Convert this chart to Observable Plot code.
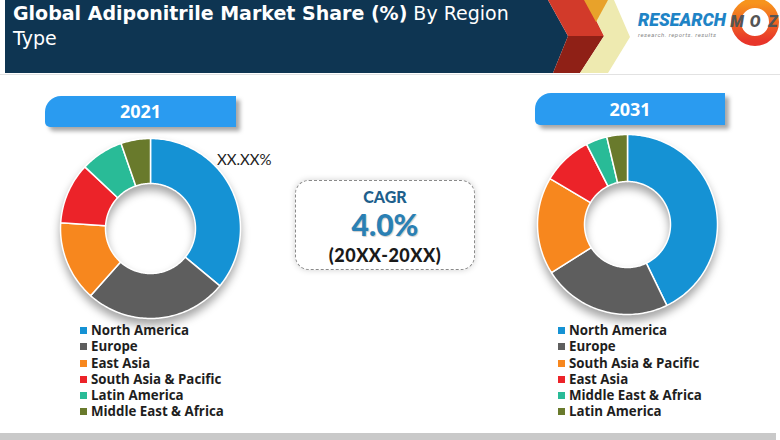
<!DOCTYPE html>
<html><head><meta charset="utf-8">
<script src="https://cdn.jsdelivr.net/npm/d3@7"></script>
<script src="https://cdn.jsdelivr.net/npm/@observablehq/plot@0.6"></script>
<style>
body{margin:0;background:#fff;}
#root{position:relative;width:780px;height:440px;overflow:hidden;background:#fff;font-family:"Open Sans",sans-serif;}
.abs{position:absolute;}
#title{left:13px;top:1px;color:#fff;font-family:"DejaVu Sans",sans-serif;font-size:19px;line-height:25px;white-space:nowrap;}
#title b{font-weight:700;}
.tab{position:absolute;background:#2a9bf0;color:#fff;font-weight:700;font-size:18px;text-align:center;border-radius:16px 0 0 5px;box-shadow:4px 4px 4px rgba(0,0,0,0.35);}
.pct{font-size:15px;color:#222;font-family:Lato,sans-serif;}
#cagr{left:295px;top:180px;width:178px;height:88px;border:1.5px dashed #8a8a8a;border-radius:14px;box-shadow:0 0 6px rgba(0,0,0,0.18);text-align:center;font-family:Lato,sans-serif;font-weight:900;}
.legend{position:absolute;font-weight:700;font-size:13.3px;color:#1e1e1e;line-height:16.3px;}
.legend .sw{display:inline-block;width:7px;height:7px;margin-right:4px;vertical-align:1px;}
.donut svg{filter:drop-shadow(0px 6px 4px rgba(0,0,0,0.35));overflow:visible;}
</style></head><body><div id="root">
<svg class="abs" style="left:0;top:0" width="780" height="80">
  <polygon points="5,0 548,0 568,36 553,73 5,73" fill="#0e3552"/>
  <polygon points="548,0 586,0 604,36 568,36" fill="#d23a2a"/>
  <polygon points="568,36 604,36 580,73 553,73" fill="#8f2016"/>
  <polygon points="586,0 614,0 630,37 608,73 580,73 604,36" fill="#eeeab0"/>
  <polygon points="584,0 608,0 596,22" fill="#e8a22a"/>
  <line x1="0" y1="74.5" x2="780" y2="74.5" stroke="#e2e2e2" stroke-width="1"/>
  <defs><linearGradient id="rg" x1="0" y1="0" x2="0" y2="1"><stop offset="0" stop-color="#f7941d"/><stop offset="1" stop-color="#e8352a"/></linearGradient></defs>
  <circle cx="755" cy="22" r="19" fill="#fff" stroke="url(#rg)" stroke-width="10"/>
  <text x="638" y="26" font-family="Roboto" font-style="italic" font-weight="900" font-size="18" fill="#1f84c6" textLength="88" lengthAdjust="spacingAndGlyphs">RESEARCH</text>
  <text x="638" y="37" font-family="Roboto" font-style="italic" font-size="6" fill="#888" textLength="78">research. reports. results</text>
  <g font-family="Roboto" font-style="italic" font-weight="900" font-size="16" fill="#555" text-anchor="middle">
    <text x="737" y="27">M</text><text x="755" y="27">O</text><text x="773" y="27">Z</text>
  </g>
</svg>
<div id="title" class="abs"><b>Global Adiponitrile Market Share (%)</b> By Region<br>Type</div>
<div id="tab1" class="tab" style="left:45px;top:96px;width:191px;height:31px;line-height:31px;"></div>
<div id="tab2" class="tab" style="left:535px;top:93px;width:190px;height:32px;line-height:32px;"></div>
<div id="pctlabel" class="abs pct" style="left:217px;top:150px;"></div>
<div id="cagr" class="abs">
  <div id="cagrLabel" style="color:#1e5f8c;font-size:16px;margin-top:6px;line-height:20px;"></div>
  <div id="cagrValue" style="color:#2a80b4;font-size:30px;line-height:34px;text-shadow:1px 1px 1px rgba(0,0,0,0.2);"></div>
  <div id="cagrPeriod" style="color:#1a1a1a;font-size:18px;line-height:28px;letter-spacing:0.5px;"></div>
</div>
<div id="d1" class="abs donut"></div>
<div id="d2" class="abs donut"></div>
<div id="leg1" class="legend" style="left:80px;top:322px;"></div>
<div id="leg2" class="legend" style="left:558px;top:322px;"></div>
<div class="abs" style="left:0;top:433px;width:776px;height:7px;background:#c9c9c9;"></div>
</div>
<script>
// ---- data ----
const years = ["2021", "2031"];
const regions2021 = ["North America", "Europe", "East Asia", "South Asia & Pacific", "Latin America", "Middle East & Africa"];
const shares2021 = [36.0, 25.6, 14.4, 11.0, 7.7, 5.3];
const regions2031 = ["North America", "Europe", "South Asia & Pacific", "East Asia", "Middle East & Africa", "Latin America"];
const shares2031 = [42.8, 23.2, 17.5, 9.0, 3.8, 3.7];
const shareLabel = "XX.XX%";
const cagrLabel = "CAGR";
const cagrValue = "4.0%";
const cagrPeriod = "(20XX-20XX)";
// ---- styles ----
const sliceColors = ["#1592d4", "#5e5e5e", "#f7871e", "#ec2329", "#29bb97", "#697a2c"];

document.getElementById("tab1").textContent = years[0];
document.getElementById("tab2").textContent = years[1];
document.getElementById("pctlabel").textContent = shareLabel;
document.getElementById("cagrLabel").textContent = cagrLabel;
document.getElementById("cagrValue").textContent = cagrValue;
document.getElementById("cagrPeriod").textContent = cagrPeriod;

function donut(regions, shares, outer, inner) {
  const data = regions.map((r, i) => ({region: r, share: shares[i]}));
  const arcs = d3.pie().sort(null).value(d => d.share)(data);
  const pts = [];
  for (const a of arcs) {
    const n = Math.max(2, Math.ceil((a.endAngle - a.startAngle) / 0.02));
    const ring = [];
    for (let k = 0; k <= n; k++) {
      const t = a.startAngle + (a.endAngle - a.startAngle) * k / n;
      ring.push({region: a.data.region, x: outer * Math.sin(t), y: outer * Math.cos(t)});
    }
    for (let k = n; k >= 0; k--) {
      const t = a.startAngle + (a.endAngle - a.startAngle) * k / n;
      ring.push({region: a.data.region, x: inner * Math.sin(t), y: inner * Math.cos(t)});
    }
    ring.push(ring[0]);
    pts.push(...ring);
  }
  const pad = 3;
  return Plot.plot({
    width: 2 * outer + 2 * pad, height: 2 * outer + 2 * pad, margin: pad,
    x: {domain: [-outer, outer], axis: null},
    y: {domain: [-outer, outer], axis: null},
    color: {domain: regions, range: sliceColors},
    marks: [
      Plot.line(pts, {x: "x", y: "y", z: "region", fill: "region", stroke: "white", strokeWidth: 1.5, curve: "linear"})
    ]
  });
}

function place(id, node, cx, cy, outer) {
  const el = document.getElementById(id);
  el.style.left = (cx - outer - 3) + "px";
  el.style.top = (cy - outer - 3) + "px";
  el.appendChild(node);
}
place("d1", donut(regions2021, shares2021, 90, 45), 150, 228, 90);
place("d2", donut(regions2031, shares2031, 90, 43), 627, 224, 90);

function legend(id, regions) {
  const el = document.getElementById(id);
  regions.forEach((r, i) => {
    const row = document.createElement("div");
    const sw = document.createElement("span");
    sw.className = "sw";
    sw.style.background = sliceColors[i];
    row.appendChild(sw);
    row.appendChild(document.createTextNode(r));
    el.appendChild(row);
  });
}
legend("leg1", regions2021);
legend("leg2", regions2031);
</script>
</body></html>
